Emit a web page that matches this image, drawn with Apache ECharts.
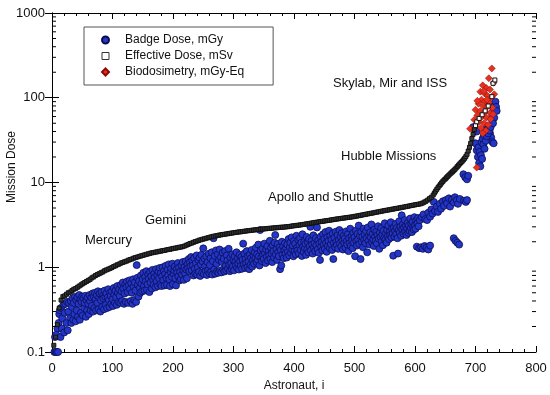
<!DOCTYPE html>
<html><head><meta charset="utf-8">
<script src="https://cdn.jsdelivr.net/npm/echarts@6/dist/echarts.min.js"></script>
<style>html,body{margin:0;padding:0;background:#fff}#c{width:550px;height:395px}</style>
</head><body><div id="c"></div>
<script>
const seriesNames = ['Badge Dose, mGy', 'Effective Dose, mSv', 'Biodosimetry, mGy-Eq'];
const xTickLabels = ['0','100','200','300','400','500','600','700','800'];
const yTickLabels = ['0.1','1','10','100','1000'];
const missionLabels = ['Mercury', 'Gemini', 'Apollo and Shuttle', 'Hubble Missions', 'Skylab, Mir and ISS'];
const xAxisTitle = 'Astronaut, i';
const yAxisTitle = 'Mission Dose';

// [astronaut index, dose]
const effectiveDose = [[3,0.12],[6,0.15],[9,0.21],[12,0.33],[15,0.41],[18,0.45],[21,0.46],[24,0.48],[27,0.5],[30,0.51],[33,0.53],[36,0.55],[39,0.56],[42,0.58],[45,0.6],[48,0.62],[51,0.64],[54,0.66],[57,0.68],[60,0.7],[63,0.72],[66,0.75],[69,0.77],[72,0.8],[75,0.82],[78,0.84],[81,0.86],[84,0.88],[87,0.91],[90,0.93],[93,0.95],[96,0.97],[99,0.99],[102,1.02],[105,1.04],[108,1.07],[111,1.09],[114,1.12],[117,1.14],[120,1.16],[123,1.18],[126,1.21],[129,1.23],[132,1.25],[135,1.28],[138,1.3],[141,1.32],[144,1.34],[147,1.36],[150,1.38],[153,1.4],[156,1.42],[159,1.44],[162,1.46],[165,1.48],[168,1.49],[171,1.51],[174,1.52],[177,1.54],[180,1.55],[183,1.57],[186,1.58],[189,1.6],[192,1.62],[195,1.63],[198,1.65],[201,1.67],[204,1.68],[207,1.7],[210,1.72],[213,1.73],[216,1.75],[219,1.78],[222,1.82],[225,1.86],[228,1.9],[231,1.93],[234,1.97],[237,2.01],[240,2.04],[243,2.08],[246,2.11],[249,2.14],[252,2.17],[255,2.2],[258,2.23],[261,2.26],[264,2.29],[267,2.32],[270,2.34],[273,2.37],[276,2.39],[279,2.41],[282,2.43],[285,2.45],[288,2.47],[291,2.49],[294,2.51],[297,2.53],[300,2.55],[303,2.57],[306,2.59],[309,2.61],[312,2.62],[315,2.64],[318,2.66],[321,2.68],[324,2.7],[327,2.71],[330,2.73],[333,2.75],[336,2.76],[339,2.78],[342,2.79],[345,2.81],[348,2.82],[351,2.84],[354,2.85],[357,2.87],[360,2.88],[363,2.89],[366,2.91],[369,2.92],[372,2.93],[375,2.95],[378,2.96],[381,2.97],[384,2.98],[387,3],[390,3.01],[393,3.03],[396,3.06],[399,3.08],[402,3.1],[405,3.12],[408,3.14],[411,3.16],[414,3.19],[417,3.21],[420,3.24],[423,3.26],[426,3.29],[429,3.32],[432,3.35],[435,3.38],[438,3.4],[441,3.43],[444,3.46],[447,3.48],[450,3.51],[453,3.54],[456,3.56],[459,3.59],[462,3.62],[465,3.65],[468,3.68],[471,3.71],[474,3.73],[477,3.76],[480,3.79],[483,3.81],[486,3.84],[489,3.87],[492,3.89],[495,3.92],[498,3.95],[501,3.99],[504,4.02],[507,4.06],[510,4.1],[513,4.14],[516,4.18],[519,4.22],[522,4.26],[525,4.3],[528,4.34],[531,4.38],[534,4.43],[537,4.47],[540,4.51],[543,4.56],[546,4.6],[549,4.65],[552,4.69],[555,4.73],[558,4.77],[561,4.82],[564,4.86],[567,4.91],[570,4.95],[573,5],[576,5.04],[579,5.09],[582,5.14],[585,5.19],[588,5.24],[591,5.29],[594,5.35],[597,5.4],[600,5.45],[603,5.5],[606,5.55],[609,5.6],[612,5.7],[615,5.85],[618,6],[621,6.2],[624,6.45],[627,6.7],[630,7.1],[632,7.5],[634,7.9],[636,8.3],[638,8.7],[640,9.1],[642,9.5],[644,9.9],[646,10.3],[648,10.7],[650,11],[652,11.4],[654,11.8],[656,12.2],[658,12.6],[660,13],[662,13.4],[664,13.8],[666,14.3],[668,14.8],[670,15.4],[672,16],[674,16.6],[676,17.2],[678,17.8],[680,18.5],[682,19.3],[684,20.2],[686,21.5],[688,23.5],[690,26],[692,29],[694,33],[696,37],[698,42],[700,47],[702,52],[706,57],[711,63],[716,70],[721,80],[727,103],[729,148],[732,162]];

const badgeDose = [
[4,0.1],[6,0.1],[8,0.1],[10,0.1],[5,0.15],[7,0.16],[9,0.19],[11,0.22],[12,0.28],[13,0.31],[15,0.33],[14,0.15],[16,0.19],[17,0.25],[19,0.36],[20,0.17],[21,0.29],[22,0.37],[24,0.22],[25,0.39],[26,0.18],[27,0.3],[28,0.38],[30,0.25],
[31,0.4],[32,0.22],[33,0.34],[34,0.43],[35,0.24],[36,0.38],[37,0.28],[38,0.45],[39,0.23],[40,0.41],[41,0.31],[42,0.44],[43,0.26],[44,0.37],[45,0.47],[46,0.24],[47,0.42],[48,0.29],[49,0.39],[50,0.45],[51,0.27],[52,0.43],[53,0.33],[54,0.38],[55,0.46],[56,0.26],[57,0.41],[58,0.31],[59,0.44],[60,0.37],[61,0.28],[62,0.47],[63,0.4],[64,0.31],[65,0.44],[66,0.35],[67,0.49],[68,0.3],
[69,0.45],[70,0.33],[71,0.5],[72,0.42],[73,0.31],[74,0.47],[75,0.38],[76,0.52],[77,0.32],[78,0.44],[79,0.49],[80,0.3],[81,0.41],[82,0.51],[83,0.34],[84,0.46],[85,0.43],[86,0.32],[87,0.53],[88,0.45],[89,0.36],[90,0.49],[91,0.33],[92,0.44],[93,0.55],[94,0.41],[95,0.34],[96,0.5],[97,0.46],[98,0.37],[99,0.52],[100,0.42],[101,0.35],[102,0.57],[103,0.48],[104,0.38],[105,0.53],[106,0.44],[107,0.36],[108,0.6],[109,0.5],[110,0.39],[111,0.55],[112,0.46],
[113,0.38],[114,0.62],[115,0.52],[116,0.4],[117,0.66],[118,0.56],[119,0.37],[120,0.49],[121,0.63],[122,0.39],[123,0.58],[124,0.68],[125,0.51],[126,0.38],[127,0.61],[128,0.7],[129,0.55],[130,0.4],[131,0.65],[132,0.5],[133,0.37],[134,0.72],[135,0.59],[136,0.41],[137,0.66],[138,0.53],[139,0.39],[140,1.06],[141,0.75],[142,0.62],[143,0.45],[144,0.69],[145,0.57],[146,0.5],
[147,0.8],[148,0.64],[149,0.52],[150,0.72],[151,0.86],[152,0.6],[153,0.53],[154,0.77],[155,0.68],[156,0.9],[157,0.54],[158,0.63],[159,0.82],[160,0.73],[161,0.51],[162,0.88],[163,0.66],[164,0.78],[165,0.56],[166,0.93],[167,0.71],[168,0.62],[169,0.84],[170,0.76],[171,0.58],[172,0.95],[173,0.68],[174,0.8],[175,0.6],[176,0.89],[177,0.74],[178,0.98],[179,0.63],
[180,0.85],[181,0.6],[182,0.78],[183,1],[184,0.7],[185,0.9],[186,0.61],[187,0.83],[188,1.04],[189,0.75],[190,0.62],[191,0.94],[192,0.8],[193,1.08],[194,0.72],[195,0.6],[196,0.88],[197,0.97],[198,0.77],[199,1.1],[200,0.63],[201,0.84],[202,0.92],[203,1.02],[204,0.74],[205,0.61],[206,0.95],[207,0.86],[208,1.12],[209,0.78],[210,0.99],[211,0.7],[212,0.88],[213,0.73],[214,1.05],[215,0.82],[216,1.15],[217,0.92],[218,0.71],[219,1],[220,0.85],[221,1.18],[222,0.94],[223,0.74],
[224,1.08],[225,0.97],[226,1.25],[227,0.9],[228,1.14],[229,1.02],[230,1.32],[231,0.92],[232,1.2],[233,1.05],[234,0.8],[235,1.28],[236,0.96],[237,0.84],[238,1.12],[239,1.38],[240,0.82],[241,1],[242,1.22],[243,0.88],[244,1.3],[245,0.79],[246,1.08],[247,1.4],[248,0.86],[249,1.17],[250,1.67],[251,0.83],[252,1.26],[253,1.02],[254,0.9],[255,1.35],[256,0.81],[257,1.15],[258,0.92],[259,1.44],[260,0.85],[261,1.06],
[262,1.28],[263,0.88],[264,1.5],[265,0.82],[266,1.18],[267,2.2],[268,0.94],[269,1.36],[270,0.84],[271,1.58],[272,1.1],[273,0.89],[274,1.42],[275,0.86],[276,1.22],[277,1.62],[278,0.91],[279,1.31],[280,0.87],[281,1.15],[282,1.48],[283,0.94],[284,1.26],[285,0.89],[286,1.55],[287,1.04],[288,0.92],[289,1.38],[290,1.2],[291,0.96],[292,1.65],[293,1.08],[294,0.9],
[295,1.3],[296,1.12],[297,0.95],[298,1.42],[299,1.02],[300,1.22],[301,0.92],[302,1.35],[303,1.15],[304,1.05],[305,1.5],[306,0.98],[307,1.27],[308,1.1],[309,0.94],[310,1.4],[311,1.18],[312,1.03],[313,1.32],[314,0.96],[315,1.22],[316,1.9],[317,1.08],[318,1.45],[319,0.98],[320,1.25],[321,1.12],[322,1.55],[323,1],[324,1.35],[325,1.17],[326,0.95],[327,1.42],[328,1.06],[329,1.28],[330,1.6],[331,1.02],[332,1.2],[333,1.38],
[334,1.1],[335,1.5],[336,1.28],[337,1.7],[338,1.15],[339,1.42],[340,1.22],[341,1.85],[342,1.35],[343,1.05],[344,2.75],[345,1.58],[346,1.3],[347,1.18],[348,1.66],[349,1.4],[350,1.25],[351,1.9],[352,1.48],[353,1.12],[354,1.62],[355,1.33],[356,1.78],[357,1.2],[358,1.52],[359,1.38],[360,2.05],[361,1.26],[362,1.7],[363,1.45],[364,1.15],[365,1.82],[366,1.55],[367,1.3],[368,1.95],[369,2.4],[370,1.42],[371,1.65],[372,1.22],[373,1.88],[374,1.5],[375,1.35],[376,1.72],[377,0.95],[378,1.6],[379,1.05],[380,2],[381,1.4],[382,1.76],[383,1.28],[384,1.58],[385,1.92],[386,1.45],[387,1.68],[388,1.3],
[389,1.85],[390,1.52],[391,2.15],[392,1.38],[393,1.72],[394,1.95],[395,1.48],[396,2.25],[397,1.62],[398,1.8],[399,1.35],[400,2.05],[401,1.55],[402,1.9],[403,1.42],[404,2.35],[405,1.7],[406,1.58],[407,2.1],[408,1.45],[409,1.82],[410,2.2],[411,1.6],[412,1.95],[413,1.36],[414,2.45],[415,1.75],[416,1.52],[417,2],[418,1.68],[419,1.88],[420,1.4],[421,2.28],[422,1.62],[423,1.95],[424,1.5],[425,2.15],[426,1.78],[427,3],[428,1.58],[429,2.05],[430,1.85],[431,1.45],[432,2.38],[433,1.7],[434,1.92],[435,1.55],[436,2.2],[437,1.8],[438,2.95],[439,1.62],[440,2.08],[441,1.48],[442,1.9],[443,1.22],
[444,2.3],[445,1.75],[446,2],[447,1.58],[448,2.45],[449,1.85],[450,2.15],[451,1.65],[452,2.6],[453,1.92],[454,1.52],[455,2.25],[456,1.78],[457,2.05],[458,2.7],[459,1.68],[460,2.35],[461,1.88],[462,2.12],[463,1.6],[464,2.5],[465,1.25],[466,1.95],[467,2.22],[468,1.72],[469,2.62],[470,2],[471,1.82],[472,2.4],[473,1.65],[474,2.1],[475,2.75],[476,1.9],[477,2.28],[478,1.75],[479,2.52],[480,2.05],[481,1.62],[482,2.35],[483,1.95],[484,2.18],[485,1.7],[486,2.65],[487,2.02],[488,1.85],[489,2.45],[490,1.55],[491,2.2],[492,1.92],[493,2.85],[494,1.78],[495,2.3],[496,2.08],[497,1.68],[498,2.55],
[499,1.95],[500,2.25],[501,1.35],[502,2.7],[503,2.05],[504,1.8],[505,2.48],[506,2.15],[507,3.1],[508,1.88],[509,2.35],[510,1.25],[511,2.62],[512,2],[513,2.28],[514,1.72],[515,2.85],[516,2.1],[517,2.45],[518,1.92],[519,2.68],[520,2.2],[521,1.5],[522,2.95],[523,2.05],[524,2.38],[525,1.85],[526,2.58],[527,2.25],[528,3.2],[529,1.98],[530,2.48],[531,2.12],[532,1.78],[533,2.78],[534,2.3],[535,2.05],[536,2.62],[537,1.9],[538,2.4],[539,3.05],[540,2.18],[541,1.65],[542,2.55],[543,2.28],[544,2.9],[545,2],[546,2.42],[547,1.82],[548,2.7],[549,2.22],[550,3.3],[551,2.1],[552,2.5],[553,1.95],
[554,2.75],[555,2.32],[556,3.1],[557,2.15],[558,2.6],[559,2.4],[560,3.4],[561,2.25],[562,2.85],[563,2.5],[564,1.37],[565,2.95],[566,2.3],[567,2.68],[568,3.25],[569,2.45],[570,2.9],[571,2.2],[572,1.45],[573,2.75],[574,3.5],[575,2.55],[576,3],[577,2.35],[578,4.1],[579,2.8],[580,3.2],[581,2.48],[582,2.95],[583,3.6],[584,2.62],[585,3.08],[586,2.4],[587,2.85],[588,3.35],[589,2.55],[590,3.1],[591,2.7],[592,3.75],[593,2.9],[594,3.25],[595,2.6],[596,3.45],[597,3],[598,2.78],[599,3.9],[600,3.15],[601,2.85],[602,3.55],[603,1.75],[604,3.3],[605,3.8],[606,3.05],[607,1.68],[608,3.6],
[610,1.72],[613,1.65],[616,1.78],[619,1.7],[622,1.62],[625,1.8],[664,2.2],[667,2.05],[670,1.95],[673,1.85],
[611,3.9],[614,4.2],[617,3.7],[620,3.6],[622,4.4],[625,3.95],[627,4.8],[629,4.3],[631,5.9],[633,4.6],[636,5.2],[638,4.5],[641,5.6],[643,4.9],[646,6],[648,5.3],[651,6.2],[653,5.7],[656,6.5],[658,5.2],[661,6.3],[664,5.8],[666,6.7],[669,6.2],[671,5.6],[674,6.4],[681,6.1],[684,5.9],[686,6.2],
[680,12.5],[683,11.5],[686,10.9],[688,12],
[696,45],[699,42],[702,40],[700,29],[702,24],[704,20],[706,17],[708,15.5],[705,26],[707,23],[709,21],[711,19],[710,30],[712,33],[714,36],[716,40],[718,43],[720,46],[722,44],[724,38],[726,34],[728,30],[730,29],[713,28],[715,25],[717,31],[719,35],[721,38],[723,41],[725,45],[727,57],[728,62],[729,68],[730,74],[731,80],[732,86],[733,90],[734,78],[735,70],[731,58],[729,50]
];

const biodosimetry = [[727,222],[722,170],[730,150],[712,140],[718,130],[724,125],[708,118],[715,112],[720,105],[726,100],[710,95],[716,90],[722,88],[705,85],[713,80],[719,78],[728,76],[700,72],[708,70],[716,68],[724,66],[703,62],[711,60],[718,58],[725,56],[698,55],[706,52],[714,50],[721,48],[700,46],[709,44],[717,41],[712,38],[702,15],[729,64],[731,110],[719,95],[714,120],[703,92],[691,43]];

const FONT = "'Liberation Sans', Arial, sans-serif";
const minorVals = [];
[0.1, 1, 10, 100].forEach(d => { for (let k = 2; k <= 9; k++) minorVals.push(+(d * k).toPrecision(3)); });

const chart = echarts.init(document.getElementById('c'), null, {renderer: 'canvas'});
const axisLineStyle = {color: '#000', width: 1};
const logFmt = v => yTickLabels[Math.round(Math.log10(v)) + 1];

// dense part of the effective-dose curve reads as a dark band; isolated points at the top are open squares
const effData = effectiveDose.map(p => p[0] >= 700 ? {value: p, itemStyle: {color: '#ffffff'}} : p);

const labelPos = [[85, 240], [145, 220], [268, 197], [341, 156], [333, 83]];
const graphics = missionLabels.map((t, i) => ({
  type: 'text', x: labelPos[i][0], y: labelPos[i][1], silent: true,
  style: {text: t, font: '13px ' + FONT, fill: '#111', verticalAlign: 'middle'}
}));
graphics.push({
  type: 'text', x: 12, y: 167, rotation: Math.PI / 2, silent: true,
  style: {text: yAxisTitle, font: '12px ' + FONT, fill: '#111', align: 'center', verticalAlign: 'middle'}
});

chart.setOption({
  animation: false,
  backgroundColor: '#fff',
  grid: {left: 52, top: 13, right: 14, bottom: 43, containLabel: false, outerBoundsMode: 'none'},
  legend: {
    data: [
      {name: seriesNames[0]},
      {name: seriesNames[1], itemStyle: {color: '#ffffff', borderColor: '#333', borderWidth: 1}},
      {name: seriesNames[2]}
    ],
    orient: 'vertical', left: 84, top: 27,
    padding: [7, 29, 7, 17], itemWidth: 7, itemHeight: 7, itemGap: 4,
    borderColor: '#555', borderWidth: 1, backgroundColor: '#fff', selectedMode: false,
    textStyle: {fontSize: 12, fontFamily: FONT, color: '#111', padding: [0, 0, 0, 11]}
  },
  xAxis: [{
    type: 'value', min: 0, max: 800, interval: 100, position: 'bottom',
    name: xAxisTitle, nameLocation: 'middle', nameGap: 28,
    nameTextStyle: {fontSize: 12, fontFamily: FONT, color: '#111'},
    axisLine: {show: true, lineStyle: axisLineStyle},
    axisTick: {show: true, inside: true, length: 6, lineStyle: axisLineStyle},
    minorTick: {show: true, splitNumber: 5, length: 3, lineStyle: axisLineStyle},
    axisLabel: {fontSize: 13, fontFamily: FONT, color: '#111', margin: 10, formatter: v => xTickLabels[Math.round(v / 100)]},
    splitLine: {show: false}
  }, {
    type: 'value', min: 0, max: 800, interval: 100, position: 'top',
    axisLine: {show: true, lineStyle: axisLineStyle},
    axisTick: {show: true, inside: true, length: 6, lineStyle: axisLineStyle},
    minorTick: {show: true, splitNumber: 5, length: 3, lineStyle: axisLineStyle},
    axisLabel: {show: false}, splitLine: {show: false}
  }],
  yAxis: [{
    type: 'log', logBase: 10, min: 0.1, max: 1000, position: 'left',
    axisLine: {show: true, lineStyle: axisLineStyle},
    axisTick: {show: true, inside: true, length: 7, lineStyle: axisLineStyle},
    axisLabel: {fontSize: 13, fontFamily: FONT, color: '#111', margin: 7, formatter: logFmt},
    splitLine: {show: false}
  }, {
    type: 'log', logBase: 10, min: 0.1, max: 1000, position: 'right',
    axisLine: {show: true, lineStyle: axisLineStyle},
    axisTick: {show: true, inside: true, length: 7, lineStyle: axisLineStyle},
    axisLabel: {show: false}, splitLine: {show: false}
  }],
  graphic: graphics,
  series: [{
    name: seriesNames[0], type: 'scatter', data: badgeDose, symbol: 'circle', symbolSize: 7,
    itemStyle: {color: '#2236c8', borderColor: '#0c0c50', borderWidth: 0.8, opacity: 1}, z: 2
  }, {
    name: seriesNames[2], type: 'scatter', data: biodosimetry, symbol: 'diamond', symbolSize: 7,
    itemStyle: {color: '#e8301e', borderColor: '#8a0c08', borderWidth: 0.5, opacity: 1}, z: 3
  }, {
    name: seriesNames[1], type: 'scatter', data: effData, symbol: 'rect', symbolSize: 4,
    itemStyle: {color: '#3a3a3a', borderColor: '#111', borderWidth: 1, opacity: 1}, z: 4
  }, {
    type: 'custom', silent: true, clip: false, z: 5,
    data: minorVals.map(v => [0, v]),
    encode: {x: 0, y: 1},
    renderItem: (params, api) => {
      const v = api.value(1);
      const a = api.coord([0, v]);
      const b = api.coord([800, v]);
      const st = {stroke: '#000', lineWidth: 1};
      return {type: 'group', children: [
        {type: 'line', shape: {x1: a[0], y1: a[1], x2: a[0] + 4, y2: a[1]}, style: st},
        {type: 'line', shape: {x1: b[0], y1: b[1], x2: b[0] - 4, y2: b[1]}, style: st}
      ]};
    }
  }]
});
</script></body></html>
